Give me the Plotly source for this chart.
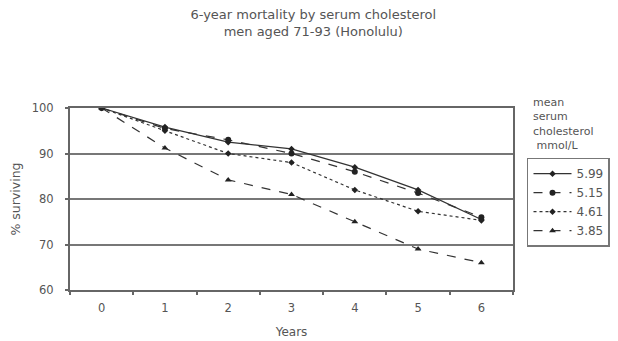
import plotly.graph_objects as go

years = [0, 1, 2, 3, 4, 5, 6]
chol_599 = [100, 95.8, 92.5, 91, 87, 82, 75.5]
chol_515 = [100, 95.5, 93, 90, 86, 81.3, 76]
chol_461 = [100, 95, 90, 88, 82, 77.3, 75.3]
chol_385 = [100, 91.2, 84.2, 81, 75, 69, 66]
series_names = ["5.99", "5.15", "4.61", "3.85"]
year_boundaries = [-0.5, 0.5, 1.5, 2.5, 3.5, 4.5, 5.5, 6.5]

styles = [
    dict(dash="solid", symbol="diamond", size=5),
    dict(dash="dash", symbol="circle", size=6),
    dict(dash="dot", symbol="diamond", size=5),
    dict(dash="dash", symbol="triangle-up", size=6),
]

fig = go.Figure()
for name, vals, st in zip(series_names, [chol_599, chol_515, chol_461, chol_385], styles):
    fig.add_trace(go.Scatter(
        x=years, y=vals, name=name, mode="lines+markers",
        line=dict(color="#333333", width=1.2, dash=st["dash"]),
        marker=dict(color="#222222", symbol=st["symbol"], size=st["size"]),
    ))

fig.update_layout(
    width=618, height=341,
    margin=dict(l=62, r=113, t=100, b=59, autoexpand=False),
    paper_bgcolor="white", plot_bgcolor="white",
    font=dict(family="DejaVu Sans", size=11, color="#555555"),
    title=dict(text="6-year mortality by serum cholesterol<br>men aged 71-93 (Honolulu)",
               x=0.494, xanchor="center", y=0.968, yanchor="top", pad=dict(t=0, b=0),
               font=dict(size=13, color="#555555")),
    showlegend=True,
    legend=dict(x=1.0316, xanchor="left", y=0.727, yanchor="top",
                bordercolor="#777777", borderwidth=1.5,
                font=dict(size=12, color="#555555"),
                tracegroupgap=0, itemwidth=38),
)
fig.update_xaxes(
    range=[-0.5, 6.5], tickmode="array", tickvals=years, automargin=False,
    showgrid=False, zeroline=False,
    showline=True, linecolor="#666666", linewidth=2, mirror=True,
    ticks="", tickfont=dict(size=11.5), ticklabelstandoff=6,
    minor=dict(tickmode="array", tickvals=year_boundaries, ticks="outside",
               ticklen=3, tickcolor="#666666", tickwidth=2, showgrid=False),
    title=dict(text="Years", font=dict(size=12, color="#555555"), standoff=14),
)
fig.update_yaxes(
    range=[60, 100], dtick=10, automargin=False,
    showgrid=True, gridcolor="#777777", gridwidth=2, zeroline=False,
    showline=True, linecolor="#666666", linewidth=2, mirror=True,
    ticks="outside", ticklen=3, tickcolor="#666666", tickwidth=2,
    tickfont=dict(size=11.5), ticklabelstandoff=9,
    title=dict(text="% surviving", font=dict(size=12.5, color="#555555"), standoff=13),
)
fig.add_annotation(
    xref="paper", yref="paper", x=1.0406, y=1.077, xanchor="left", yanchor="top",
    text="mean<br>serum<br>cholesterol<br> mmol/L", showarrow=False, align="left",
    font=dict(size=11, color="#555555"),
)
fig.write_html("out.html")
